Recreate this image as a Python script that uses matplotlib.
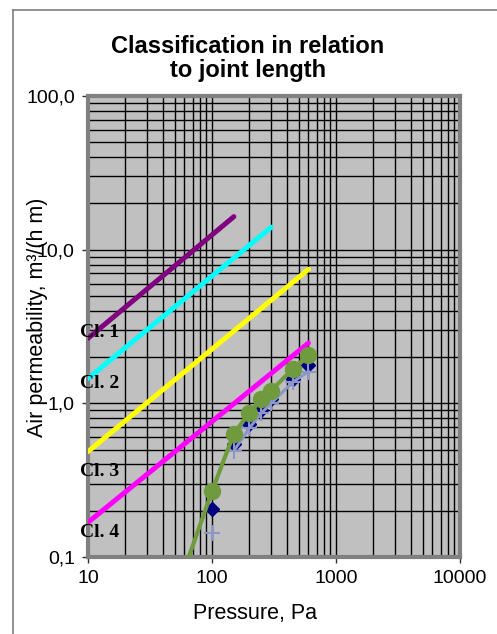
import matplotlib
matplotlib.use("Agg")
import matplotlib.pyplot as plt
from matplotlib.lines import Line2D
from matplotlib.ticker import FixedLocator, NullFormatter, LogLocator

# classification limits (pressure range, air permeability at both ends)
cl_names = ["Cl. 1", "Cl. 2", "Cl. 3", "Cl. 4"]
cl_colors = ["#800080", "#00ffff", "#ffff00", "#ff00ff"]
cl_pressure = [[10, 150], [10, 300], [10, 600], [10, 600]]
cl_flow = [[2.65, 16.4], [1.45, 14.0], [0.485, 7.45], [0.168, 2.47]]

# measured values
p_green = [50, 100, 150, 200, 250, 300, 450, 600]
q_green = [0.055, 0.268, 0.635, 0.865, 1.06, 1.21, 1.68, 2.05]
p_meas = [100, 150, 200, 250, 300, 450, 600]
q_navy = [0.204, 0.54, 0.73, 0.91, 1.07, 1.45, 1.77]
q_plus = [0.143, 0.49, 0.69, 0.865, 1.0, 1.38, 1.61]

x_ticks = [10, 100, 1000, 10000]
x_labels = ["10", "100", "1000", "10000"]
y_ticks = [0.1, 1, 10, 100]
y_labels = ["0,1", "1,0", "10,0", "100,0"]

W, H = 497, 634
plt.rcParams['font.family'] = ['Liberation Sans', 'DejaVu Sans']
fig = plt.figure(figsize=(W / 100, H / 100), dpi=100)

# chart frame
fig.add_artist(Line2D([13 / W, 13 / W], [0, 1 - 10 / H], color="#7f7f7f", lw=1.2))
fig.add_artist(Line2D([13 / W, 1], [1 - 10 / H, 1 - 10 / H], color="#7f7f7f", lw=1.2))

ax = fig.add_axes([88 / W, 1 - 557 / H, 372 / W, 461 / H])
ax.set_facecolor("#c0c0c0")
ax.set_xscale("log")
ax.set_yscale("log")
ax.set_xlim(10, 10000)
ax.set_ylim(0.1, 100)

ax.xaxis.set_major_locator(FixedLocator(x_ticks))
ax.yaxis.set_major_locator(FixedLocator(y_ticks))
ax.xaxis.set_minor_locator(LogLocator(base=10, subs=range(2, 10)))
ax.yaxis.set_minor_locator(LogLocator(base=10, subs=range(2, 10)))
ax.xaxis.set_minor_formatter(NullFormatter())
ax.yaxis.set_minor_formatter(NullFormatter())
ax.set_xticklabels(x_labels)
ax.set_yticklabels(y_labels)
ax.grid(True, which="both", color="black", lw=1.0)
ax.set_axisbelow(True)
ax.tick_params(which="major", direction="out", length=4.5, width=1,
               color="#303030", labelsize=14, pad=5)
ax.tick_params(which="minor", length=0)

for s in ax.spines.values():
    s.set_color("#808080")
    s.set_linewidth(3)

# class limit lines
for name, c, p, q in zip(cl_names, cl_colors, cl_pressure, cl_flow):
    ax.plot(p, q, color=c, lw=3.6, solid_capstyle="round", zorder=3)

cl_label_y = [0.478, 0.366, 0.176, 0.043]
for name, y in zip(cl_names, cl_label_y):
    ax.text(-0.022, y, name, transform=ax.transAxes, fontsize=14,
            fontweight="bold", family="Liberation Serif", va="baseline",
            ha="left", clip_on=False, zorder=6)

# measured series
ax.plot(p_meas, q_navy, ls="none", marker="D", ms=7, color="#000080", zorder=4)
ax.plot(p_meas[1:], q_plus[1:], color="#8a97c8", lw=2.2, zorder=5)
ax.plot(p_meas, q_plus, ls="none", marker="+", ms=11, mew=1.5,
        color="#8a97c8", zorder=5)
ax.plot(p_green, q_green, color="#6f9a3e", lw=3, marker="o", ms=11.5,
        zorder=6)

fig.text(248 / W, 1 - 53 / H, "Classification in relation", ha="center",
         va="baseline", fontsize=17, fontweight="bold")
fig.text(248 / W, 1 - 77 / H, "to joint length", ha="center",
         va="baseline", fontsize=17, fontweight="bold")
fig.text(255 / W, 1 - 619 / H, "Pressure, Pa", ha="center", va="baseline",
         fontsize=15.5)
fig.text(38 / W, 1 - 317 / H, "Air permeability, m³/(h m)", ha="center",
         va="center", rotation=90, fontsize=15.5)

fig.savefig("out.png", dpi=100)
